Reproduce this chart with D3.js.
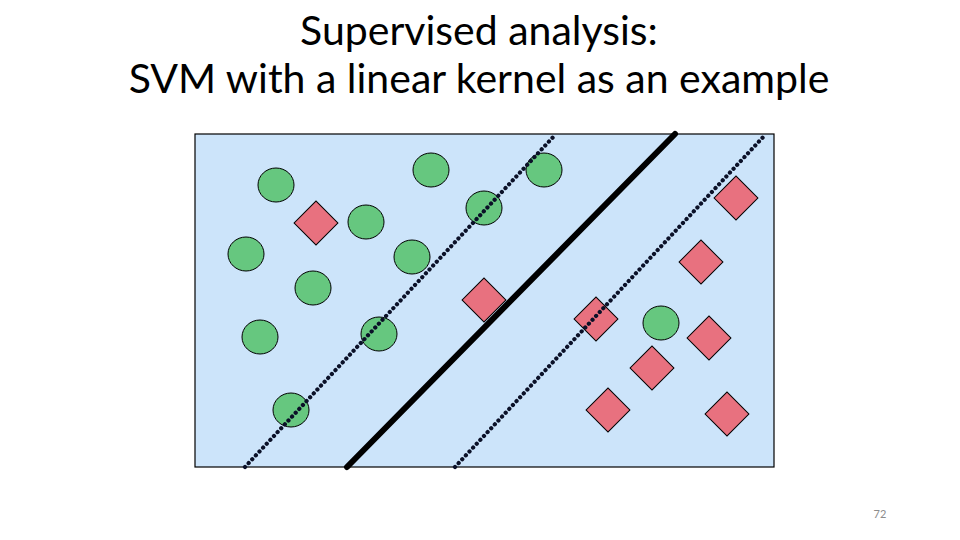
<!DOCTYPE html>
<html>
<head>
<meta charset="utf-8">
<script src="https://cdn.jsdelivr.net/npm/d3@7"></script>
<style>
  body { margin: 0; background: #fff; }
  text { font-family: Lato, "Open Sans", sans-serif; }
</style>
</head>
<body>
<div id="chart"></div>
<script>
// data, in panel units (x to the right, y upward)
var circleX = [81, 236, 349, 289, 171, 51, 217, 118, 65, 184, 466, 96];
var circleY = [282, 297, 297, 259, 245, 213, 210, 179, 130, 133, 144, 57];

var diamondX = [121, 541, 506, 289, 401, 514, 457, 413, 532];
var diamondY = [244, 269, 205, 167, 148, 129, 99, 57, 53];

// separating hyperplane and the two margins: [x at bottom, x at top]
var lineNames = ["lower", "hyperplane", "upper"];
var lineBottomX = [50, 152, 260];
var lineTopX = [361, 480, 571];

var titleLines = ["Supervised analysis:", "SVM with a linear kernel as an example"];
var pageNumber = "72";

var svgWidth = 960;
var svgHeight = 540;

var panel = { left: 195, top: 134, width: 579, height: 333 };

var svg = d3.select("#chart")
  .append("svg")
  .attr("width", svgWidth)
  .attr("height", svgHeight);

// title
svg.selectAll(".title")
  .data(titleLines)
  .enter()
  .append("text")
  .attr("class", "title")
  .attr("x", 479)
  .attr("y", (d, i) => 45 + i * 48)
  .attr("text-anchor", "middle")
  .style("font-size", "41px")
  .style("fill", "#000")
  .text(d => d);

var chartGroup = svg.append("g")
  .attr("transform", `translate(${panel.left}, ${panel.top})`);

var xScale = d3.scaleLinear()
  .domain([0, panel.width])
  .range([0, panel.width]);

var yScale = d3.scaleLinear()
  .domain([0, panel.height])
  .range([panel.height, 0]);

// background panel
chartGroup.append("rect")
  .attr("x", 0)
  .attr("y", 0)
  .attr("width", panel.width)
  .attr("height", panel.height)
  .attr("fill", "#cce4fa")
  .attr("stroke", "#000")
  .attr("stroke-width", 1.2);

// green class
chartGroup.selectAll(".dot")
  .data(circleX)
  .enter()
  .append("ellipse")
  .attr("class", "dot")
  .attr("cx", d => xScale(d))
  .attr("cy", (d, i) => yScale(circleY[i]))
  .attr("rx", 18)
  .attr("ry", 17)
  .attr("fill", "#66c77f")
  .attr("stroke", "#000")
  .attr("stroke-width", 1);

// red class
var diamond = d3.symbol().type(d3.symbolSquare).size(31 * 31);

chartGroup.selectAll(".diamond")
  .data(diamondX)
  .enter()
  .append("path")
  .attr("class", "diamond")
  .attr("d", diamond)
  .attr("transform", (d, i) => `translate(${xScale(d)}, ${yScale(diamondY[i])}) rotate(45)`)
  .attr("fill", "#e8717f")
  .attr("stroke", "#000")
  .attr("stroke-width", 1);

// lines on top of the points
chartGroup.selectAll(".svm-line")
  .data(lineNames)
  .enter()
  .append("line")
  .attr("class", "svm-line")
  .attr("x1", (d, i) => xScale(lineBottomX[i]))
  .attr("y1", yScale(0))
  .attr("x2", (d, i) => xScale(lineTopX[i]))
  .attr("y2", yScale(panel.height))
  .attr("stroke", (d) => d === "hyperplane" ? "#000" : "#0b1128")
  .attr("stroke-width", d => d === "hyperplane" ? 6 : 4.2)
  .attr("stroke-linecap", "round")
  .attr("stroke-dasharray", d => d === "hyperplane" ? null : "0.1 5.2");

// page number
svg.append("text")
  .attr("x", 880)
  .attr("y", 518)
  .attr("text-anchor", "middle")
  .style("font-size", "11px")
  .style("fill", "#8c8c8c")
  .text(pageNumber);
</script>
</body>
</html>
